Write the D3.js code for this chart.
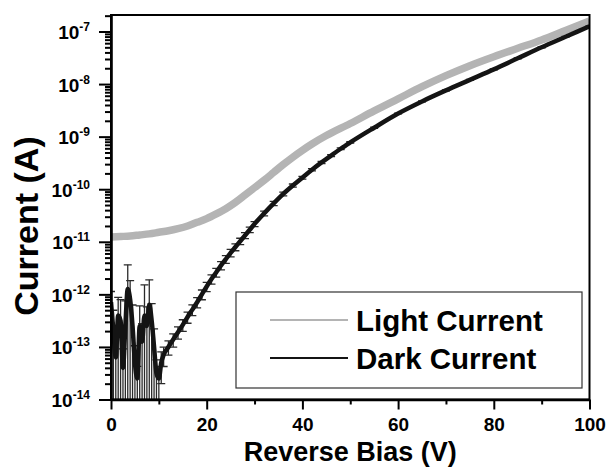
<!DOCTYPE html>
<html lang="en">
<head>
<meta charset="UTF-8">
<title>Light and Dark Current vs Reverse Bias</title>
<script src="https://cdnjs.cloudflare.com/ajax/libs/d3/7.9.0/d3.min.js"></script>
<style>
  body{margin:0;background:#fff;}
  svg{display:block;font-family:"Liberation Sans",Arial,Helvetica,sans-serif;font-weight:700;}
</style>
</head>
<body>
<div id="chart"></div>
<script>
/* ---------- Data ---------- */
// light current (grey band)
const lightV = [0,2,4,6,8,10,12,14,16,18,20,22,24,26,28,30,32,34,36,38,40,42,45,50,55,60,65,70,75,80,85,90,95,100];
const lightLog = [-10.91,-10.90,-10.89,-10.87,-10.85,-10.82,-10.79,-10.75,-10.70,-10.63,-10.56,-10.47,-10.37,-10.25,
                  -10.11,-9.97,-9.83,-9.68,-9.53,-9.39,-9.26,-9.14,-8.98,-8.75,-8.51,-8.28,-8.05,-7.84,-7.65,-7.48,
                  -7.32,-7.16,-6.98,-6.80];
// dark current (black, with error bars)
const darkV = [0,0.5,1,1.5,2,2.5,3,3.5,4,4.5,5,5.5,6,6.5,7,7.5,8,8.5,9,9.5,10,10.5,11,
               12,13,14,15,16,17,18,19,20,21,22,23,24,25,26,27,28,29,30,32,34,36,38,40,42,44,46,48,50,
               55,60,65,70,75,80,85,90,95,100];
const darkLog = [-12.15,-12.7,-13.2,-12.4,-12.5,-13.4,-12.6,-11.9,-12.1,-12.6,-13.3,-13.6,-12.6,-12.9,-12.4,-12.6,
                 -12.2,-12.5,-13.0,-13.5,-13.6,-13.3,-13.15,
                 -13.00,-12.86,-12.72,-12.58,-12.43,-12.29,-12.15,-12.00,-11.85,-11.71,-11.58,-11.45,-11.33,-11.21,
                 -11.10,-10.99,-10.88,-10.77,-10.66,-10.46,-10.27,-10.09,-9.93,-9.78,-9.63,-9.49,-9.36,-9.23,-9.11,
                 -8.83,-8.56,-8.33,-8.12,-7.92,-7.72,-7.51,-7.30,-7.10,-6.90];
// relative error of the dark current (fraction of value)
const darkErr = [0.6,1.5,2.0,1.2,1.5,1.3,2.0,1.9,1.3,1.5,1.1,0.7,1.4,1.2,2.8,1.3,2.0,1.1,1.2,0.8,0.7,0.6,0.4,
                 0.3,0.28,0.26,0.25,0.24,0.23,0.22,0.21,0.2,0.2,0.19,0.18,0.17,0.16,0.15,0.14,0.13,0.12,0.11,0.1,
                 0.09,0.08,0.07,0.06,0.05,0.05,0.04,0.04,0.03,0.03,0.02,0.02,0.02,0.02,0.02,0.02,0.02,0.02,0.02];

const xTicks = [0,20,40,60,80,100];
const xMinor = [10,30,50,70,90];
const yExps = [-7,-8,-9,-10,-11,-12,-13,-14];
const seriesNames = ["Light Current","Dark Current"];

/* ---------- Layout ---------- */
const W = 609, H = 472;
const m = {left:111, right:19.5, top:15, bottom:72.5};
const svg = d3.select("#chart").append("svg").attr("width",W).attr("height",H);

const x = d3.scaleLinear().domain([0,100]).range([m.left, W-m.right]);
const y = d3.scaleLog().domain([1e-14, 2.06e-7]).range([H-m.bottom, m.top]);
const yMin = y.domain()[0];

svg.append("defs").append("clipPath").attr("id","plot")
  .append("rect").attr("x",m.left).attr("y",m.top)
  .attr("width",W-m.left-m.right).attr("height",H-m.top-m.bottom);

const plot = svg.append("g").attr("clip-path","url(#plot)");

const line = d3.line().x(d=>x(d.v)).y(d=>y(d.i)).curve(d3.curveMonotoneX);
const light = lightV.map((v,k)=>({v, i:Math.pow(10,lightLog[k])}));
const dark = darkV.map((v,k)=>{
  const i = Math.pow(10,darkLog[k]), e = i*darkErr[k];
  return {v, i, hi:i+e, lo:Math.max(i-e, yMin*0.9)};
});

// light current
plot.append("path").datum(light)
  .attr("d",line).attr("fill","none")
  .attr("stroke","#b4b4b4").attr("stroke-width",7.5).attr("stroke-linejoin","round");

// dark current error bars
const eb = plot.append("g").attr("stroke","#2a2a2a").attr("stroke-width",1.3);
eb.selectAll("line.v").data(dark).enter().append("line").attr("class","v")
  .attr("x1",d=>x(d.v)).attr("x2",d=>x(d.v))
  .attr("y1",d=>y(d.lo)).attr("y2",d=>y(d.hi));
eb.selectAll("line.h").data(dark).enter().append("line").attr("class","h")
  .attr("x1",d=>x(d.v)-4).attr("x2",d=>x(d.v)+4)
  .attr("y1",d=>y(d.hi)).attr("y2",d=>y(d.hi));
eb.selectAll("line.l").data(dark.filter(d=>d.lo>yMin)).enter().append("line").attr("class","l")
  .attr("x1",d=>x(d.v)-4).attr("x2",d=>x(d.v)+4)
  .attr("y1",d=>y(d.lo)).attr("y2",d=>y(d.lo));

// dark current line
plot.append("path").datum(dark)
  .attr("d",line).attr("fill","none")
  .attr("stroke","#141414").attr("stroke-width",4.5).attr("stroke-linejoin","round");

/* ---------- Frame & axes ---------- */
svg.append("rect")
  .attr("x",m.left).attr("y",m.top)
  .attr("width",W-m.left-m.right).attr("height",H-m.top-m.bottom)
  .attr("fill","none").attr("stroke","#000").attr("stroke-width",2);

// x axis
const gx = svg.append("g").attr("transform",`translate(0,${H-m.bottom})`);
gx.call(d3.axisBottom(x).tickValues(xTicks).tickSize(10).tickSizeOuter(0).tickPadding(8));
gx.append("g").call(d3.axisBottom(x).tickValues(xMinor).tickSize(5).tickFormat(""))
  .select(".domain").remove();
gx.selectAll("text").attr("font-size",19).attr("font-weight",700)
  .attr("font-family","Liberation Sans, Arial, sans-serif").attr("fill","#000");

// y axis: majors at decades, minors at 2..9
const minors = [];
yExps.forEach(e=>{ if(e<-7) for(let k=2;k<=9;k++) minors.push(k*Math.pow(10,e)); });
minors.push(2e-7);
const gy = svg.append("g").attr("transform",`translate(${m.left},0)`);
gy.call(d3.axisLeft(y).tickValues(yExps.map(e=>Math.pow(10,e))).tickSize(12).tickSizeOuter(0).tickFormat(""));
gy.append("g").call(d3.axisLeft(y).tickValues(minors).tickSize(6).tickFormat(""))
  .select(".domain").remove();

svg.selectAll(".domain").attr("stroke-width",2.6);
svg.selectAll(".tick line").attr("stroke-width",2);

// y tick labels 10^n
const yl = svg.append("g").attr("font-size",19).attr("fill","#000");
yExps.forEach(e=>{
  const t = yl.append("text").attr("x",90).attr("y",y(Math.pow(10,e))+7.5).attr("text-anchor","end");
  t.append("tspan").text("10");
  t.append("tspan").attr("font-size",12).attr("dy",-8).text(String(e));
});

// axis titles
svg.append("text").attr("x",(m.left+W-m.right)/2).attr("y",461)
  .attr("text-anchor","middle").attr("font-size",27).text("Reverse Bias (V)");
svg.append("text").attr("transform","translate(38,226) rotate(-90)")
  .attr("text-anchor","middle").attr("font-size",34).text("Current (A)");

/* ---------- Legend ---------- */
const lg = svg.append("g");
lg.append("rect").attr("x",236).attr("y",292).attr("width",346).attr("height",96)
  .attr("fill","#fff").attr("stroke","#333").attr("stroke-width",1.2);
const legendColors = ["#b4b4b4","#141414"];
seriesNames.forEach((s,k)=>{
  const yy = 320 + k*38;
  lg.append("line").attr("x1",270).attr("x2",348).attr("y1",yy).attr("y2",yy)
    .attr("stroke",legendColors[k]).attr("stroke-width",2);
  lg.append("text").attr("x",356).attr("y",yy+10.5).attr("font-size",29.5).attr("fill","#000").text(s);
});
</script>
</body>
</html>
